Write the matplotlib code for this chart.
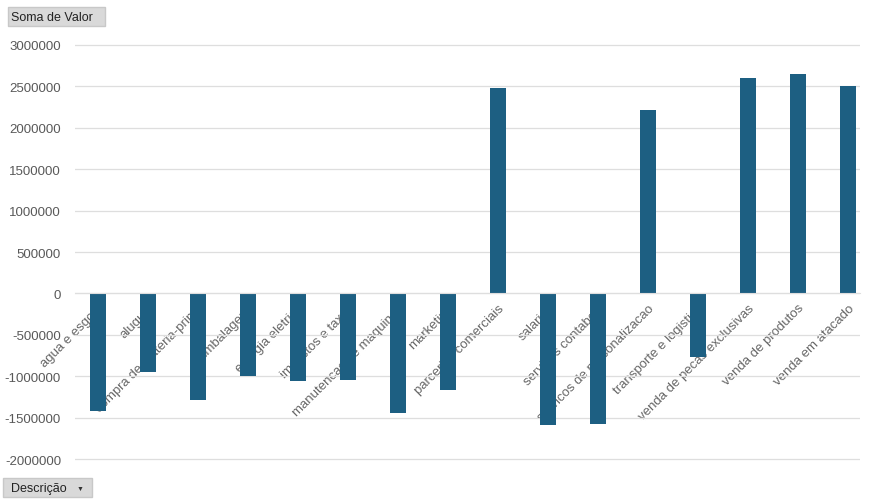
import matplotlib
matplotlib.use("Agg")
import matplotlib.pyplot as plt
from matplotlib.patches import FancyBboxPatch

# dados da tabela dinamica (Soma de Valor por Descricao)
descricoes = ["agua e esgoto", "aluguel", "compra de materia-prima", "embalagens",
              "energia eletrica", "impostos e taxas", "manutencao de maquinas", "marketing",
              "parcerias comerciais", "salarios", "servicos contabeis",
              "servicos de personalizacao", "transporte e logistica",
              "venda de pecas exclusivas", "venda de produtos", "venda em atacado"]
valores = [-1420000, -947000, -1290000, -1000000, -1060000, -1048000, -1440000, -1170000,
           2480000, -1590000, -1580000, 2210000, -765000, 2600000, 2650000, 2500000]
y_ticks = [-2000000, -1500000, -1000000, -500000, 0, 500000, 1000000, 1500000,
           2000000, 2500000, 3000000]

plt.rcParams['font.family'] = ['Liberation Sans', 'DejaVu Sans']
cinza = '#595959'

fig = plt.figure(figsize=(8.84, 5.02), dpi=100)
ax = fig.add_axes([75/884, 40.3/502, 785/884, 417.4/502])

x = list(range(len(descricoes)))
ax.bar(x, valores, width=0.33, color='#1d5f82', zorder=2)

ax.set_xlim(-0.46, 15.24)
ax.set_ylim(-2020000, 3020000)
ax.set_yticks(y_ticks)
ax.set_yticklabels([str(v) for v in y_ticks], color=cinza, fontsize=9.5)
ax.yaxis.grid(True, color='#dedede', linewidth=0.9)
ax.set_axisbelow(True)

# eixo das categorias na linha do zero, rotulos atras das barras
ax.spines['bottom'].set_position(('data', 0))
ax.spines['bottom'].set_color('#dedede')
for s in ['top', 'right', 'left']:
    ax.spines[s].set_visible(False)
ax.set_xticks(x)
ax.set_xticklabels(descricoes, rotation=45, ha='right', rotation_mode='anchor',
                   color='#666666', fontsize=9.5)
ax.tick_params(axis='x', length=0, pad=6)
ax.tick_params(axis='y', length=0, pad=10)

# botoes da tabela dinamica
b1 = FancyBboxPatch((8/884, 1 - 27/502), 97/884, 19/502, boxstyle='square,pad=0',
                    transform=fig.transFigure, facecolor='#d9d9d9', edgecolor='#c8c8c8')
fig.patches.append(b1)
fig.text(11/884, 1 - 18/502, "Soma de Valor", fontsize=9, va='center', color='#222222')
b2 = FancyBboxPatch((3/884, 4/502), 89/884, 19/502, boxstyle='square,pad=0',
                    transform=fig.transFigure, facecolor='#d9d9d9', edgecolor='#c8c8c8')
fig.patches.append(b2)
fig.text(11/884, 13/502, "Descrição", fontsize=9, va='center', color='#222222')
fig.text(80/884, 13/502, "▼", fontsize=5, va='center', ha='center', color='#333333')

fig.savefig("out.png", dpi=100)
